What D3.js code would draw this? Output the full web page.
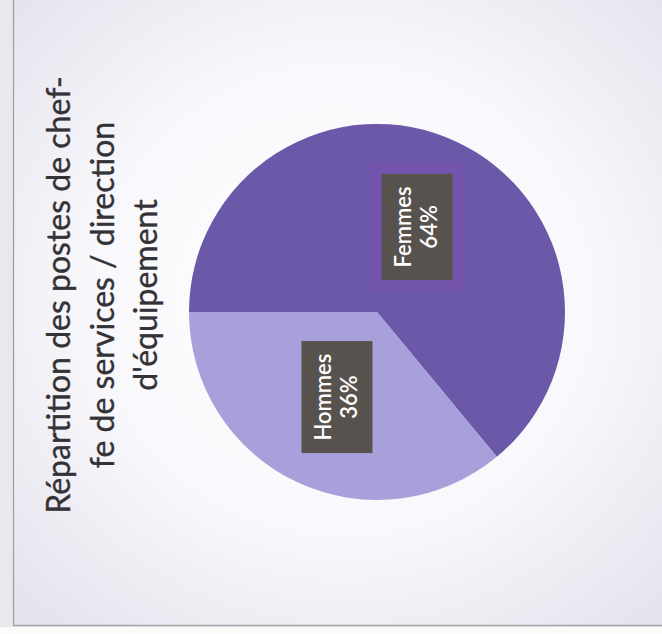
<!DOCTYPE html>
<html>
<head>
<meta charset="utf-8">
<script src="https://cdn.jsdelivr.net/npm/d3@7/dist/d3.min.js"></script>
<style>
  html, body { margin: 0; padding: 0; background: #ffffff; }
  svg { display: block; }
</style>
</head>
<body>
<svg id="chart" width="662" height="634"></svg>
<script>
// Répartition des postes de chef-fe de services / direction d'équipement
const categories = ["Femmes", "Hommes"];
const values = [64, 36];
const sliceColors = ["#6b58a9", "#a7a0db"];
const titleLines = [
  "Répartition des postes de chef-",
  "fe de services / direction",
  "d'équipement"
];

const W = 662, H = 634;
const svg = d3.select("#chart");
const defs = svg.append("defs");

// page background and chart area
const grad = defs.append("radialGradient")
  .attr("id", "bg").attr("cx", "50%").attr("cy", "48%").attr("r", "70%");
grad.append("stop").attr("offset", "0%").attr("stop-color", "#ffffff");
grad.append("stop").attr("offset", "55%").attr("stop-color", "#f8f7fb");
grad.append("stop").attr("offset", "100%").attr("stop-color", "#e4e2ec");

svg.append("rect").attr("width", W).attr("height", H).attr("fill", "#e9e8ed");
svg.append("rect").attr("x", 0).attr("y", 627).attr("width", W).attr("height", H - 627).attr("fill", "#fbfbfc");
svg.append("rect").attr("x", 13).attr("y", -2).attr("width", W).attr("height", 627)
  .attr("fill", "url(#bg)");
svg.append("line").attr("x1", 13.5).attr("x2", 13.5).attr("y1", 0).attr("y2", 625.5)
  .attr("stroke", "#9d9ca3").attr("stroke-width", 1.2);
svg.append("line").attr("x1", 13).attr("x2", W).attr("y1", 625.5).attr("y2", 625.5)
  .attr("stroke", "#a6a5ab").attr("stroke-width", 1.5);

// the chart itself is laid out upright, then turned a quarter turn
const g = svg.append("g").attr("transform", `translate(0,${H}) rotate(-90)`);

// title
const title = g.append("text")
  .attr("text-anchor", "middle")
  .attr("font-family", "Lato, 'Open Sans', sans-serif")
  .attr("font-size", 32)
  .attr("fill", "#333236")
  .attr("stroke", "#333236")
  .attr("stroke-width", 0.35);
title.selectAll("tspan").data(titleLines).join("tspan")
  .attr("x", 339)
  .attr("y", (d, i) => 70 + i * 43.5)
  .text(d => d);

// pie
const cx = 322, cy = 377, radius = 188;
const pie = d3.pie().sort(null).startAngle(0).endAngle(2 * Math.PI);
const arcs = pie(values).map((a, i) => Object.assign(a, { name: categories[i] }));
const arc = d3.arc().innerRadius(0).outerRadius(radius);
const color = d3.scaleOrdinal().domain(categories).range(sliceColors);

const pg = g.append("g").attr("transform", `translate(${cx},${cy})`);
pg.selectAll("path.slice").data(arcs).join("path")
  .attr("class", "slice")
  .attr("d", arc)
  .attr("fill", d => color(d.name));

// data labels on dark boxes at slice centroids
const fmt = d => d3.format(".0%")(d / 100);
const boxW = [106, 112], boxH = 71;
const lbl = pg.selectAll("g.lbl").data(arcs).join("g")
  .attr("class", "lbl")
  .attr("transform", d => { const c = arc.centroid(d); return `translate(${c[0]},${c[1]})`; });

lbl.filter(d => d.name === "Femmes").append("rect")
  .attr("x", d => -boxW[d.index] / 2 - 6).attr("y", -boxH / 2 - 6)
  .attr("width", d => boxW[d.index] + 12).attr("height", boxH + 12)
  .attr("fill", "none").attr("stroke", "#8050b2").attr("stroke-opacity", 0.5)
  .attr("stroke-width", 10);
lbl.append("rect")
  .attr("x", d => -boxW[d.index] / 2).attr("y", -boxH / 2)
  .attr("width", d => boxW[d.index]).attr("height", boxH)
  .attr("fill", "#58524f");
const lt = lbl.append("text")
  .attr("text-anchor", "middle")
  .attr("font-family", "Lato, sans-serif")
  .attr("font-weight", 600)
  .attr("font-size", 22)
  .attr("fill", "#ffffff");
lt.append("tspan").attr("x", 0).attr("y", -6).text(d => d.name);
lt.append("tspan").attr("x", 0).attr("y", 20).text(d => fmt(d.value));
</script>
</body>
</html>
